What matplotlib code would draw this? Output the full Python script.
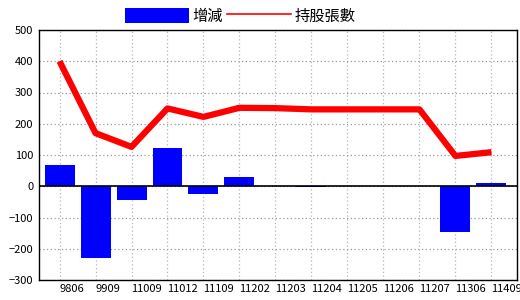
import matplotlib
matplotlib.use('Agg')
import matplotlib.pyplot as plt
from matplotlib.lines import Line2D
from matplotlib.patches import Patch
import matplotlib.transforms as mtransforms

plt.rcParams['font.family'] = ['Noto Sans CJK TC', 'DejaVu Sans']

periods = ['9806', '9909', '11009', '11012', '11109', '11202', '11203',
           '11204', '11205', '11206', '11207', '11306', '11409']
change = [67, -228, -45, 122, -26, 31, 0, -3, 0, 0, 0, -145, 10]
holdings = [400, 170, 126, 249, 222, 251, 250, 246, 246, 246, 246, 97, 109]

fig = plt.figure(figsize=(5.2, 3.0), dpi=100)
ax = fig.add_axes([39 / 520, 20 / 300, 478 / 520, 250 / 300])

x = list(range(len(periods)))
ax.bar(x, change, width=30 / 36, color='#0000ff', zorder=2)
ax.axhline(0, color='black', lw=1.2, zorder=3)
ax.plot(x, holdings, color='#ff0000', lw=4.5, zorder=4, solid_capstyle='butt')

ax.set_xlim(-0.57, 12.71)
ax.set_ylim(-300, 500)
ax.set_yticks(range(-300, 501, 100))
ax.set_xticks(x)
ax.set_xticklabels(periods)
for lbl in ax.get_xticklabels():
    lbl.set_horizontalalignment('left')
    lbl.set_clip_on(False)

ax.tick_params(axis='both', length=0, labelsize=8, colors='black')
ax.tick_params(axis='y', pad=4)
ax.tick_params(axis='x', pad=3)

ax.grid(axis='y', color='#999999', linestyle=(0, (1, 2)), lw=0.9, zorder=1)
ax.grid(axis='x', color='#a9b8c8', linestyle=(0, (1, 2)), lw=0.9, zorder=1)
for s in ax.spines.values():
    s.set_color('black')
    s.set_linewidth(1.0)

handles = [Patch(facecolor='#0000ff', edgecolor='none', label='增減'),
           Line2D([0], [0], color='#ff0000', lw=1.2, label='持股張數')]
fig.legend(handles=handles, loc='center', bbox_to_anchor=(240 / 520, 1 - 16 / 300),
           ncol=2, frameon=False, fontsize=11, handlelength=4.2, handleheight=1.1,
           handletextpad=0.2, columnspacing=0.3, borderaxespad=0)

fig.savefig('out.png', dpi=100)
